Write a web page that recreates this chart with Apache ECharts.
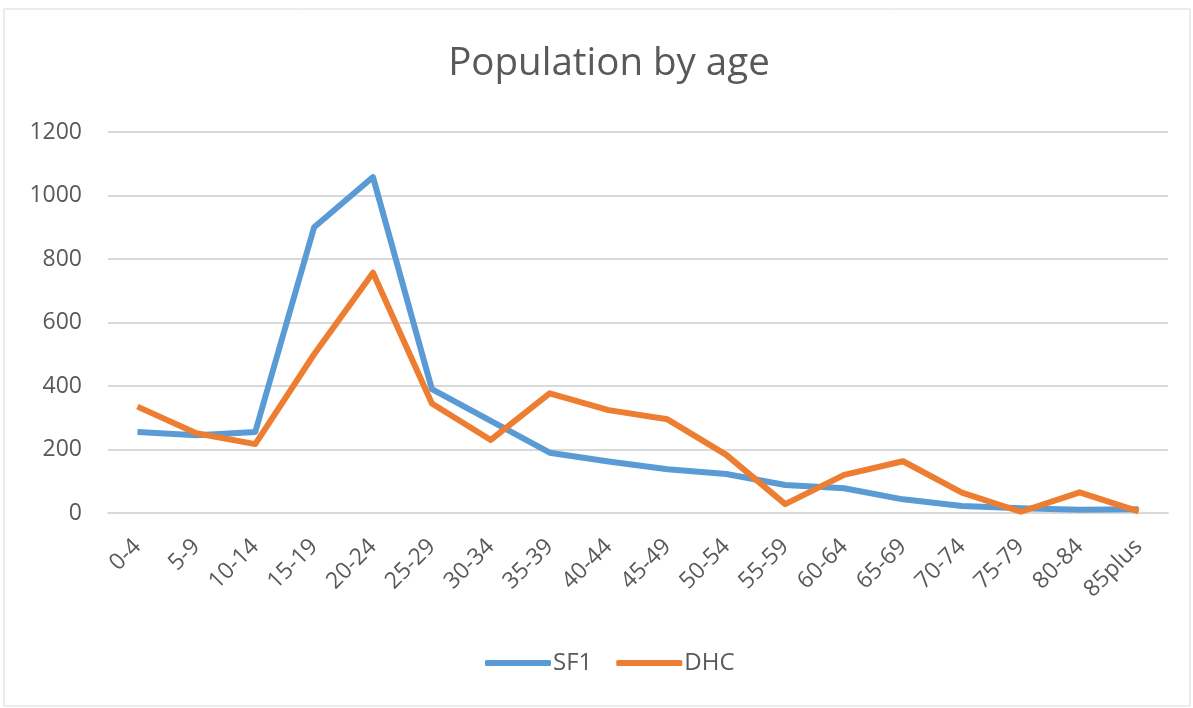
<!DOCTYPE html>
<html><head><meta charset="utf-8">
<script src="https://cdn.jsdelivr.net/npm/echarts@6/dist/echarts.min.js"></script>
<style>html,body{margin:0;padding:0;background:#fff}#c{width:1193px;height:708px}</style>
</head><body><div id="c"></div>
<script>
var categories = ['0-4','5-9','10-14','15-19','20-24','25-29','30-34','35-39','40-44','45-49','50-54','55-59','60-64','65-69','70-74','75-79','80-84','85plus'];
var sf1 = [255,245,255,900,1058,390,290,190,162,138,123,88,78,43,22,15,10,12];
var dhc = [335,251,217,500,757,345,230,377,324,295,183,28,120,163,64,4,65,5];
var yTicks = [0,200,400,600,800,1000,1200];

var chart = echarts.init(document.getElementById('c'));
var font = '"Open Sans", "Noto Sans", sans-serif';
chart.setOption({
  animation: false,
  textStyle: {fontFamily: font},
  graphic: [{type:'rect', shape:{x:4,y:9,width:1186,height:697}, style:{fill:'none', stroke:'#d9d9d9', lineWidth:1}, silent:true}],
  title: {text:'Population by age', left:604, textAlign:'center', top:40, textStyle:{fontFamily:font, fontSize:38.5, fontWeight:'normal', color:'#595959'}},
  legend: {bottom:28, left:480, itemWidth:66, itemHeight:6, itemGap:24, icon:'roundRect',
    textStyle:{fontFamily:font, fontSize:24, color:'#595959', padding:[0,0,0,-3]}, data:['SF1','DHC']},
  grid: {left:108, right:25, top:132, bottom:195, containLabel:false},
  xAxis: {type:'category', data:categories, boundaryGap:true,
    axisLine:{lineStyle:{color:'#d9d9d9', width:2}}, axisTick:{show:false},
    axisLabel:{rotate:45, fontSize:23, color:'#595959', margin:30, interval:0}},
  yAxis: {type:'value', min:yTicks[0], max:yTicks[yTicks.length-1], interval:200,
    axisLine:{show:false}, axisTick:{show:false},
    axisLabel:{fontSize:23, color:'#595959', margin:26, formatter:function(v){return String(v);}},
    splitLine:{lineStyle:{color:'#d9d9d9', width:2}}},
  series: [
    {name:'SF1', type:'line', data:sf1, showSymbol:false, symbol:'none', lineStyle:{width:6, color:'#5B9BD5', join:'round'}, itemStyle:{color:'#5B9BD5'}},
    {name:'DHC', type:'line', data:dhc, showSymbol:false, symbol:'none', lineStyle:{width:6, color:'#ED7D31', join:'round'}, itemStyle:{color:'#ED7D31'}}
  ]
});
</script></body></html>
